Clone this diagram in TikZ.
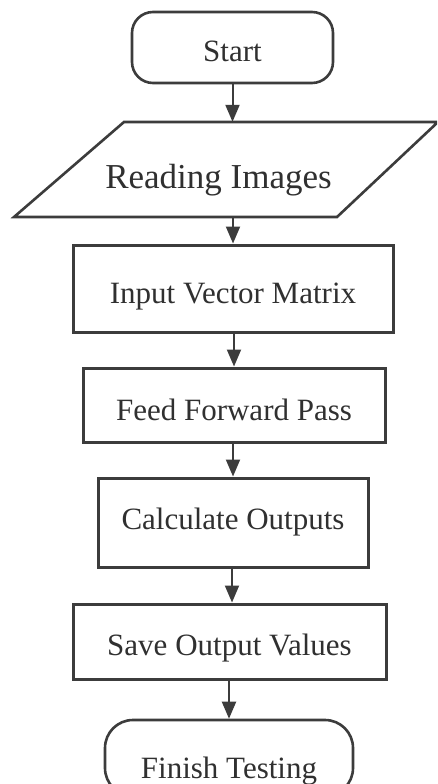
\documentclass[tikz,border=0pt]{standalone}
\usepackage{fontspec}
\setmainfont{Liberation Serif}
\usetikzlibrary{arrows.meta}
\definecolor{ink}{HTML}{3C3C3C}
\definecolor{txt}{HTML}{303030}
\begin{document}
\begin{tikzpicture}[x=1pt,y=-1pt,
  box/.style={draw=ink, line width=3pt, fill=white, rectangle, inner sep=0pt,
    text=txt, font=\fontsize{31}{36}\selectfont, text depth=0pt},
  term/.style={box, line width=2.6pt},
  flow/.style={draw=ink, line width=2pt, -{Triangle[width=14pt,length=17pt]}},
]
% page area
\clip (0,0) rectangle (437,784);
\fill[white] (0,0) rectangle (437,784);

% terminals and process boxes
\node[term, rounded corners=21pt, minimum width=201pt, minimum height=71pt, text height=29pt]
  (start) at (232.5,47.5) {Start};

% input/output parallelogram
\draw[ink, line width=2.6pt, line join=miter]
  (124,122) -- (438,122) -- (337,217) -- (14,217) -- cycle;
\node[inner sep=0pt, minimum width=220pt, minimum height=95pt, text=txt,
  font=\fontsize{35}{40}\selectfont, text height=37pt, text depth=0pt]
  (read) at (218.5,169.5) {Reading Images};

\node[box, minimum width=320pt, minimum height=87pt, text height=29pt]
  (input) at (233,288.5) {Input Vector Matrix};
\node[box, minimum width=302pt, minimum height=74pt, text height=30pt]
  (feed) at (234,405) {Feed Forward Pass};
\node[box, minimum width=270pt, minimum height=89pt, text height=13pt]
  (calc) at (233,522.5) {Calculate Outputs};
\node[box, minimum width=313pt, minimum height=75pt, text height=27pt]
  (save) at (229.5,641.5) {Save Output Values};
\node[term, rounded corners=28pt, minimum width=248pt, minimum height=76pt, text height=40pt]
  (finish) at (229,758) {Finish Testing};

% connectors
\draw[flow] (start.south) -- (start.south |- read.north);
\draw[flow] (input.north |- read.south) -- (input.north);
\draw[flow] (input.south -| feed.north) -- (feed.north);
\draw[flow] (feed.south -| calc.north) -- (calc.north);
\draw[flow] ([xshift=-1pt]calc.south) -- ([xshift=-1pt]calc.south |- save.north);
\draw[flow] (save.south -| finish.north) -- (finish.north);
\end{tikzpicture}
\end{document}
